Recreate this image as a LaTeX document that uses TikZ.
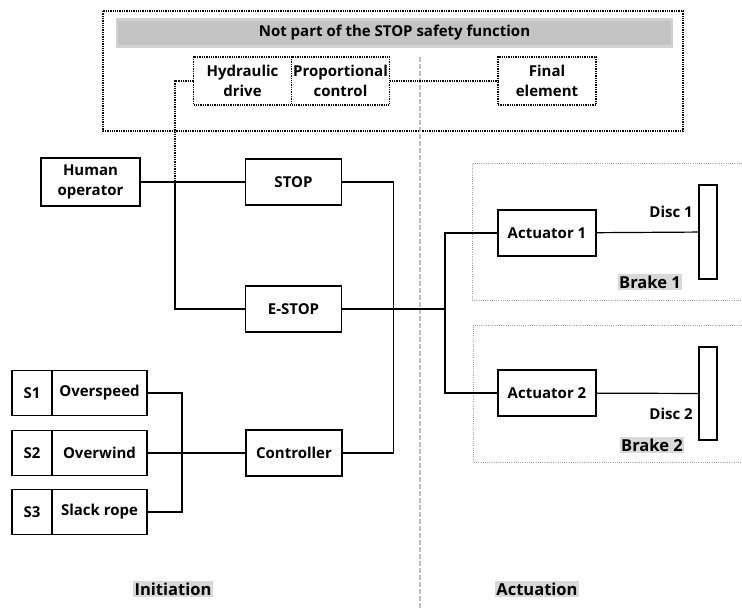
\documentclass[tikz,border=0pt]{standalone}
\usepackage{fontspec}
\setmainfont{Open Sans}
\usetikzlibrary{positioning}

\begin{document}
\begin{tikzpicture} [x=1pt, y=-1pt,
   font=\fontsize{15}{20}\selectfont\bfseries,
   blk/.style={draw, line width=1.9pt, align=center, inner sep=0pt, outer sep=0pt,
     minimum width=96pt, minimum height=46pt},
   dotblk/.style={draw, line width=1.4pt, dash pattern=on 1.3pt off 1pt, align=center,
     inner sep=0pt, outer sep=0pt, minimum width=98pt, minimum height=48pt},
   wire/.style={line width=1.9pt},
   thinwire/.style={line width=1.2pt},
   dots/.style={line width=1.4pt, dash pattern=on 1.3pt off 1pt},
   brakebox/.style={draw=gray!70, line width=0.9pt, dash pattern=on 1pt off 1.2pt},
   sep/.style={draw=gray!50, line width=1.1pt, dash pattern=on 5pt off 2pt},
   tag/.style={fill=gray!30, inner sep=1.5pt, font=\fontsize{16.5}{18}\selectfont\bfseries}]
   \useasboundingbox (0,0) rectangle (742,608);

   % not part of the safety function
   \draw[dots] (103,11) rectangle (683,131);
   \node (title)[fill=gray!47, draw=gray!35, line width=2.5pt, minimum width=555pt,
     minimum height=27pt, inner sep=0pt] at (394.5,33) {Not part of the STOP safety function};
   \node (hyd)[dotblk] at (242.5,81) {Hydraulic\\drive};
   \node (prop)[dotblk, right=0pt of hyd] {Proportional\\control};
   \node (final)[dotblk] at (547,81) {Final\\element};

   % initiation / actuation split
   \draw[sep] (420,57) -- (420,608);

   % initiation side
   \node (human)[blk, minimum width=99pt, minimum height=48pt] at (90.5,182) {Human\\operator};
   \node (stop)[blk] at (293.5,182) {STOP};
   \node (estop)[blk] at (293.5,309) {E-STOP};
   \node (ctrl)[blk] at (294,453) {Controller};

   \node (s1)[blk, minimum width=40pt, minimum height=45pt] at (32,393) {S1};
   \node (ovs)[blk, minimum width=95pt, minimum height=45pt, right=0pt of s1] {Overspeed};
   \node (s2)[blk, minimum width=40pt, minimum height=45pt] at (32,453) {S2};
   \node (ovw)[blk, minimum width=95pt, minimum height=45pt, right=0pt of s2] {Overwind};
   \node (s3)[blk, minimum width=40pt, minimum height=45pt] at (32,512) {S3};
   \node (slack)[blk, minimum width=95pt, minimum height=45pt, right=0pt of s3] {Slack rope};

   % actuation side
   \draw[brakebox] (742,163) -| (472,300) -- (742,300);
   \draw[brakebox] (742,325) -| (473,462) -- (742,462);
   \node (act1)[blk, minimum width=98pt] at (547,233) {Actuator 1};
   \node (act2)[blk, minimum width=98pt] at (547,393) {Actuator 2};
   \node (disc1)[draw, line width=1.5pt, minimum width=18pt, minimum height=94pt,
     inner sep=0pt, outer sep=0pt] at (708,232) {};
   \node (disc2)[draw, line width=1.5pt, minimum width=18pt, minimum height=93pt,
     inner sep=0pt, outer sep=0pt] at (708,393.5) {};
   \node (disc1lbl)[anchor=east, inner sep=0pt] at (693,212) {Disc 1};
   \node (disc2lbl)[anchor=east, inner sep=0pt] at (693,414) {Disc 2};
   \node (brake1)[tag] at (650,282) {Brake 1};
   \node (brake2)[tag] at (652,445) {Brake 2};

   \node (init)[tag] at (173,589) {Initiation};
   \node (actu)[tag] at (537,589) {Actuation};

   % connections
   \coordinate (jh) at (175,182);
   \coordinate (jb) at (445,309);
   \draw[wire] (human) -- (stop);
   \draw[wire] (jh) |- (estop);
   \draw[wire] (stop.east) -- ++(52,0) |- (ctrl.east);
   \draw[wire] (estop) -- (jb);
   \draw[wire] (act1.west) -| (jb);
   \draw[wire] (act2.west) -| (jb);
   \draw[thinwire] (act1) -- (disc1);
   \draw[thinwire] (act2) -- (disc2);
   \draw[wire] (ovs.east) -- ++(35,0) |- (slack.east);
   \draw[wire] (ovw) -- (ctrl);
   \draw[dots] (prop) -- (final);
   \draw[dots] (hyd.west) -| (jh);

\end{tikzpicture}
\end{document}
